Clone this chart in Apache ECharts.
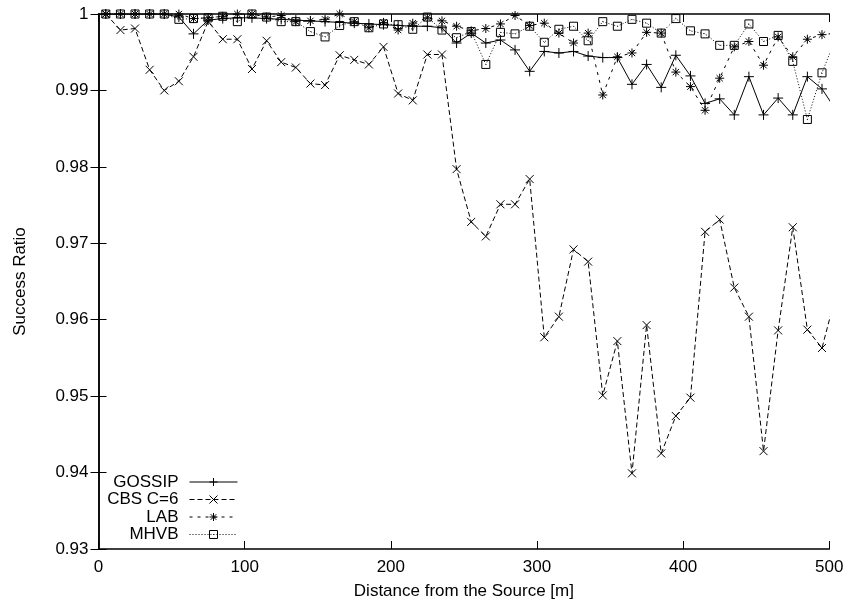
<!DOCTYPE html>
<html><head><meta charset="utf-8">
<script src="https://cdn.jsdelivr.net/npm/echarts@6.0.0/dist/echarts.min.js"></script>
<style>html,body{margin:0;padding:0;background:#fff}#c{width:849px;height:607px}</style>
</head><body><div id="c"></div>
<script>
const distances = [5,15,25,35,45,55,65,75,85,95,105,115,125,135,145,155,165,175,185,195,205,215,225,235,245,255,265,275,285,295,305,315,325,335,345,355,365,375,385,395,405,415,425,435,445,455,465,475,485,495,505];
const gossip = [1.0,1.0,1.0,1.0,1.0,0.9996,0.9974,0.9992,0.9994,0.9995,0.9995,0.9994,0.9993,0.9992,0.9991,0.9990,0.9989,0.9988,0.9987,0.9986,0.9985,0.9984,0.9984,0.9982,0.9962,0.9975,0.9962,0.9966,0.9953,0.9925,0.9951,0.9949,0.9951,0.9945,0.9943,0.9943,0.9908,0.9934,0.9904,0.9946,0.9919,0.9883,0.9889,0.9868,0.9918,0.9868,0.9890,0.9868,0.9918,0.9902,0.9873];
const cbs = [1.0,0.9979,0.9981,0.9927,0.9900,0.9912,0.9944,0.9990,0.9967,0.9967,0.9928,0.9965,0.9937,0.9930,0.9909,0.9907,0.9946,0.9940,0.9934,0.9957,0.9896,0.9887,0.9947,0.9947,0.9797,0.9728,0.9709,0.9751,0.9751,0.9784,0.9577,0.9604,0.9692,0.9676,0.9501,0.9572,0.9399,0.9593,0.9425,0.9474,0.9498,0.9715,0.9731,0.9642,0.9604,0.9428,0.9586,0.9721,0.9587,0.9563,0.9636];
const lab = [1.0,1.0,1.0,1.0,1.0,1.0,0.9994,0.9995,0.9997,1.0,1.0,0.9996,0.9998,0.9990,0.9991,0.9993,1.0,0.9990,0.9982,0.9989,0.9979,0.9988,0.9995,0.9991,0.9984,0.9978,0.9981,0.9987,0.9998,0.9985,0.9988,0.9975,0.9962,0.9975,0.9894,0.9944,0.9949,0.9976,0.9975,0.9924,0.9905,0.9874,0.9916,0.9957,0.9964,0.9933,0.9970,0.9944,0.9967,0.9973,0.9975];
const mhvb = [1.0,1.0,1.0,1.0,1.0,0.9993,0.9994,0.9995,0.9997,0.9990,1.0,0.9996,0.9990,0.9990,0.9977,0.9970,0.9985,0.9990,0.9982,0.9987,0.9986,0.9980,0.9996,0.9979,0.9969,0.9977,0.9934,0.9976,0.9974,0.9984,0.9963,0.9980,0.9984,0.9965,0.9990,0.9984,0.9993,0.9988,0.9975,0.9994,0.9978,0.9974,0.9959,0.9959,0.9987,0.9964,0.9972,0.9938,0.9862,0.9923,0.9971];
const seriesNames = ['GOSSIP','CBS C=6','LAB','MHVB'];
const xTickLabels = ['0','100','200','300','400','500'];
const yTickLabels = ['0.93','0.94','0.95','0.96','0.97','0.98','0.99','1'];

const FONT = '"Liberation Sans", Arial, Helvetica, sans-serif';
const chart = echarts.init(document.getElementById('c'), null, {renderer:'canvas'});
function pairs(ys){ return distances.map((x,i)=>[x, ys[i]]); }
const sym = {
  plus: 'path://M0,5L10,5M5,0L5,10',
  cross: 'path://M0,0L10,10M10,0L0,10',
  star: 'path://M0,5L10,5M5,0L5,10M1.5,1.5L8.5,8.5M8.5,1.5L1.5,8.5',
  box: 'path://M0,0L10,0L10,10L0,10ZM4.6,4.6L5.4,5.4'
};
const symbols = [sym.plus, sym.cross, sym.star, sym.box];
const dashes = ['solid', [5,3], [3,5], [1,2]];
function mk(name, ys, symbol, size, dash, z){
  return {name, type:'line', data:pairs(ys), symbol, symbolSize:size, showSymbol:true, clip:true,
    xAxisIndex:0, yAxisIndex:0, z,
    lineStyle:{color:'#000', width:1, type:dash},
    itemStyle:{color:'rgba(0,0,0,0)', borderColor:'#000', borderWidth:1},
    emphasis:{disabled:true}};
}
const axisTxt = {fontSize:17, color:'#000', fontFamily:FONT};
const tick = {show:true, inside:true, length:8, lineStyle:{color:'#000', width:1}};
const line = {show:true, lineStyle:{color:'#000', width:1.5}};
const legendCenters = [482.5, 500, 517.5, 535];
const option = {
  animation:false,
  backgroundColor:'#fff',
  grid:{left:98.5, right:19.7, top:14, bottom:58, containLabel:false},
  xAxis:[
    {type:'value', min:0, max:500, interval:100, position:'bottom', axisLine:line, axisTick:tick, splitLine:{show:false},
     axisLabel:Object.assign({margin:10, formatter:(v)=>xTickLabels[Math.round(v/100)]}, axisTxt),
     name:'Distance from the Source [m]', nameLocation:'middle', nameGap:34, nameTextStyle:axisTxt},
    {type:'value', min:0, max:500, interval:100, position:'top', axisLine:line, axisTick:tick, splitLine:{show:false}, axisLabel:{show:false}}
  ],
  yAxis:[
    {type:'value', min:0.93, max:1, interval:0.01, position:'left', axisLine:line, axisTick:tick, splitLine:{show:false},
     axisLabel:Object.assign({margin:10, formatter:(v)=>yTickLabels[Math.round((v-0.93)*100)]}, axisTxt),
     name:'Success Ratio', nameLocation:'middle', nameGap:70, nameRotate:90, nameTextStyle:axisTxt},
    {type:'value', min:0.93, max:1, interval:0.01, position:'right', axisLine:line, axisTick:tick, splitLine:{show:false}, axisLabel:{show:false}}
  ],
  legend: seriesNames.map((n,i)=>({data:[n], right:611, top:legendCenters[i]-9, align:'right', orient:'horizontal',
    itemWidth:48, itemHeight:10, padding:0, itemGap:0, selectedMode:false,
    lineStyle:{width:1, color:'#000', type:dashes[i]},
    itemStyle:{color:'rgba(0,0,0,0)', borderColor:'#000', borderWidth:1},
    textStyle:{fontSize:17, color:'#000', fontFamily:FONT, padding:[0,6,0,0]}})),
  series:[
    mk(seriesNames[0], gossip, symbols[0], 10, dashes[0], 2),
    mk(seriesNames[1], cbs, symbols[1], 8, dashes[1], 3),
    mk(seriesNames[2], lab, symbols[2], 9, dashes[2], 4),
    mk(seriesNames[3], mhvb, symbols[3], 8, dashes[3], 5)
  ]
};
chart.setOption(option);
</script>
</body></html>
